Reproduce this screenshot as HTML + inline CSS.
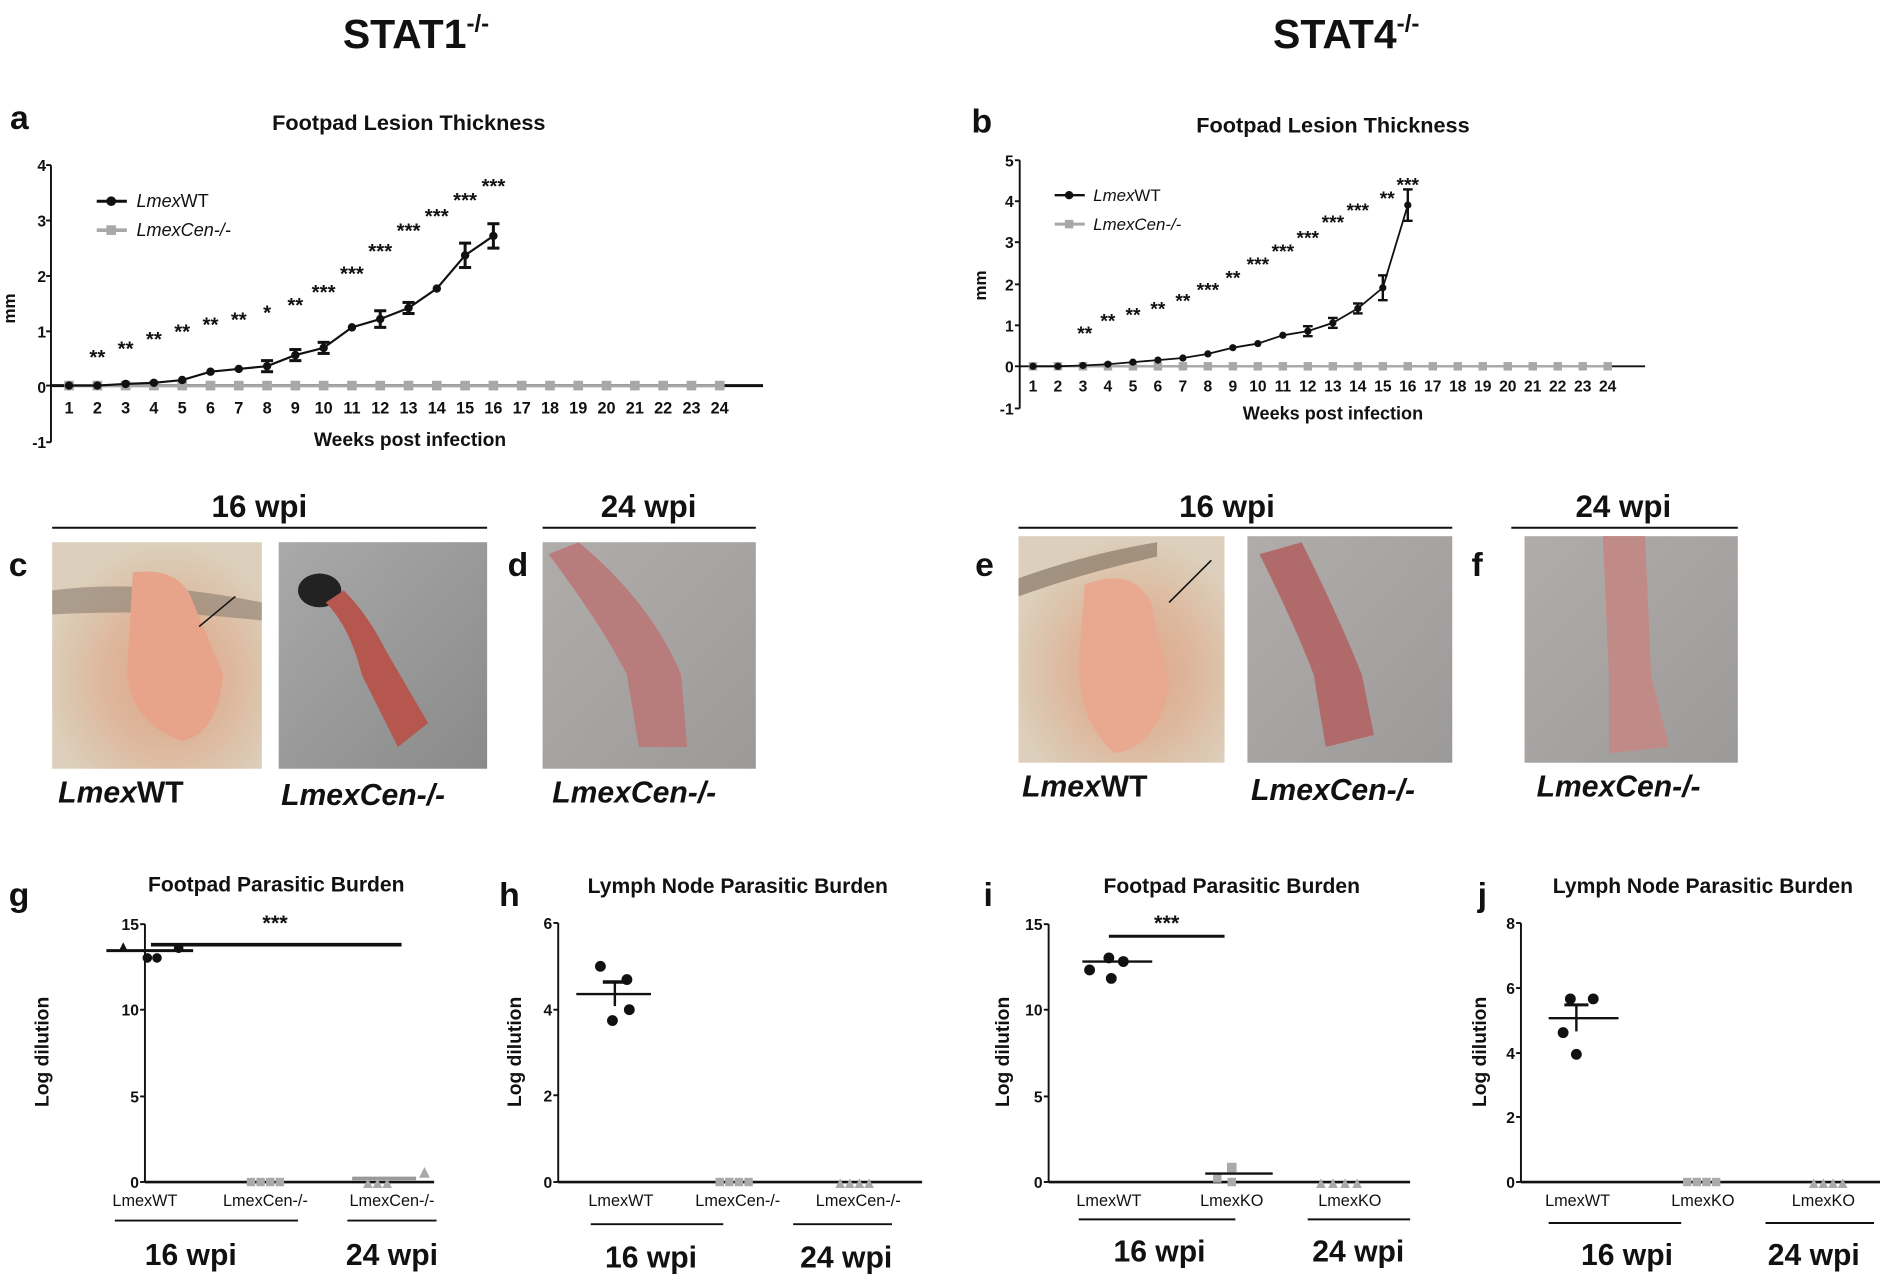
<!DOCTYPE html>
<html><head><meta charset="utf-8"><style>
html,body{margin:0;padding:0;background:#fff;width:1890px;height:1276px;overflow:hidden}
svg{display:block}
text{font-family:"Liberation Sans",sans-serif;fill:#111}
.b{font-weight:bold}
</style></head><body>
<svg id="s" width="1890" height="1276" viewBox="0 0 1568 1059" xmlns="http://www.w3.org/2000/svg">
<defs>
<radialGradient id="g1" cx="0.55" cy="0.6" r="0.6"><stop offset="0" stop-color="#e2a488"/><stop offset="0.5" stop-color="#ddb79c"/><stop offset="1" stop-color="#dcd0bc"/></radialGradient>
<linearGradient id="g2" x1="0" y1="0" x2="1" y2="1"><stop offset="0" stop-color="#a9a9a9"/><stop offset="1" stop-color="#8a8a8a"/></linearGradient>
<linearGradient id="g3" x1="0" y1="0" x2="1" y2="1"><stop offset="0" stop-color="#b0acaa"/><stop offset="1" stop-color="#9c9a99"/></linearGradient>
</defs>
<text x="345" y="40" class="b" font-size="34" text-anchor="middle">STAT1<tspan font-size="20" dy="-14">-/-</tspan></text>
<text x="1117" y="40" class="b" font-size="34" text-anchor="middle">STAT4<tspan font-size="20" dy="-14">-/-</tspan></text>
<text x="8" y="107" class="b" font-size="28">a</text>
<text x="339" y="108" class="b" font-size="18" text-anchor="middle">Footpad Lesion Thickness</text>
<g class="b" font-size="13" text-anchor="end">
<text x="38" y="142">4</text><text x="38" y="188">3</text><text x="38" y="234">2</text><text x="38" y="280">1</text><text x="38" y="326">0</text><text x="38" y="372">-1</text></g>
<text transform="translate(12,256) rotate(-90)" class="b" font-size="14" text-anchor="middle">mm</text>
<g class="b" font-size="13.5" text-anchor="middle">
<text x="57" y="343">1</text><text x="80.5" y="343">2</text><text x="104" y="343">3</text><text x="127.4" y="343">4</text><text x="150.9" y="343">5</text><text x="174.4" y="343">6</text><text x="197.9" y="343">7</text><text x="221.4" y="343">8</text><text x="244.8" y="343">9</text><text x="268.3" y="343">10</text><text x="291.8" y="343">11</text><text x="315.3" y="343">12</text><text x="338.8" y="343">13</text><text x="362.2" y="343">14</text><text x="385.7" y="343">15</text><text x="409.2" y="343">16</text><text x="432.7" y="343">17</text><text x="456.2" y="343">18</text><text x="479.6" y="343">19</text><text x="503.1" y="343">20</text><text x="526.6" y="343">21</text><text x="550.1" y="343">22</text><text x="573.6" y="343">23</text><text x="597" y="343">24</text></g>
<text x="340" y="370" class="b" font-size="16" text-anchor="middle">Weeks post infection</text>
<text x="113" y="172" font-size="15" font-style="italic">Lmex<tspan font-style="normal">WT</tspan></text>
<text x="113" y="196" font-size="15" font-style="italic">LmexCen-/-</text>
<g class="b" font-size="17" text-anchor="middle">
<text x="80.5" y="302">**</text><text x="104" y="295">**</text><text x="127.4" y="287">**</text><text x="150.9" y="281">**</text><text x="174.4" y="275">**</text><text x="197.9" y="271">**</text><text x="221.4" y="265">*</text><text x="244.8" y="259">**</text><text x="268.3" y="248">***</text><text x="291.8" y="233">***</text><text x="315.3" y="214">***</text><text x="338.8" y="197">***</text><text x="362.2" y="185">***</text><text x="385.7" y="172">***</text><text x="409.2" y="160">***</text></g>
<text x="806" y="110" class="b" font-size="28">b</text>
<text x="1106" y="110" class="b" font-size="18" text-anchor="middle">Footpad Lesion Thickness</text>
<g class="b" font-size="13" text-anchor="end">
<text x="841" y="138">5</text><text x="841" y="172">4</text><text x="841" y="206">3</text><text x="841" y="241">2</text><text x="841" y="275">1</text><text x="841" y="309">0</text><text x="841" y="344">-1</text></g>
<text transform="translate(818,237) rotate(-90)" class="b" font-size="14" text-anchor="middle">mm</text>
<g class="b" font-size="13" text-anchor="middle">
<text x="857" y="325">1</text><text x="877.7" y="325">2</text><text x="898.5" y="325">3</text><text x="919.2" y="325">4</text><text x="940" y="325">5</text><text x="960.7" y="325">6</text><text x="981.4" y="325">7</text><text x="1002.2" y="325">8</text><text x="1022.9" y="325">9</text><text x="1043.7" y="325">10</text><text x="1064.4" y="325">11</text><text x="1085.1" y="325">12</text><text x="1105.9" y="325">13</text><text x="1126.6" y="325">14</text><text x="1147.4" y="325">15</text><text x="1168.1" y="325">16</text><text x="1188.8" y="325">17</text><text x="1209.6" y="325">18</text><text x="1230.3" y="325">19</text><text x="1251.1" y="325">20</text><text x="1271.8" y="325">21</text><text x="1292.5" y="325">22</text><text x="1313.3" y="325">23</text><text x="1334" y="325">24</text></g>
<text x="1106" y="348" class="b" font-size="15" text-anchor="middle">Weeks post infection</text>
<text x="907" y="167" font-size="14" font-style="italic">Lmex<tspan font-style="normal">WT</tspan></text>
<text x="907" y="191" font-size="14" font-style="italic">LmexCen-/-</text>
<g class="b" font-size="16" text-anchor="middle">
<text x="900" y="282">**</text><text x="919.2" y="272">**</text><text x="940" y="267">**</text><text x="960.7" y="262">**</text><text x="981.4" y="255">**</text><text x="1002.2" y="246">***</text><text x="1022.9" y="236">**</text><text x="1043.7" y="225">***</text><text x="1064.4" y="214">***</text><text x="1085.1" y="203">***</text><text x="1105.9" y="190">***</text><text x="1126.6" y="180">***</text><text x="1151" y="170">**</text><text x="1168.1" y="159">***</text></g>
<g class="b" font-size="26" text-anchor="middle">
<text x="215" y="429">16 wpi</text><text x="538" y="429">24 wpi</text><text x="1018" y="429">16 wpi</text><text x="1347" y="429">24 wpi</text></g>
<g stroke="#111" stroke-width="1.6"><line x1="43" y1="438" x2="404" y2="438"/><line x1="450" y1="438" x2="627" y2="438"/><line x1="845" y1="438" x2="1205" y2="438"/><line x1="1254" y1="438" x2="1442" y2="438"/></g>
<g class="b" font-size="28"><text x="7" y="478">c</text><text x="421" y="478">d</text><text x="809" y="478">e</text><text x="1221" y="478">f</text></g>
<rect x="43" y="450" width="174" height="188" fill="url(#g1)"/>
<path d="M43 490 Q120 480 217 500 L217 515 Q130 505 43 510Z" fill="#8a7d6f" opacity="0.6"/>
<path d="M110 475 Q150 470 160 500 L185 560 Q180 610 150 615 Q110 600 105 560Z" fill="#e8a48a"/>
<rect x="231" y="450" width="173" height="188" fill="url(#g2)"/>
<ellipse cx="265" cy="490" rx="18" ry="14" fill="#222"/>
<path d="M270 500 Q290 520 300 560 L330 620 L355 600 L320 540 Q305 510 285 490Z" fill="#b5574f"/>
<rect x="450" y="450" width="177" height="188" fill="url(#g3)"/>
<path d="M455 460 Q500 520 520 560 L530 620 L570 620 L565 560 Q540 500 480 450Z" fill="#b87c7c"/>
<rect x="845" y="445" width="171" height="188" fill="url(#g1)"/>
<path d="M845 480 Q900 460 960 450 L960 462 Q900 475 845 495Z" fill="#7b6a5a" opacity="0.6"/>
<path d="M900 485 Q940 470 955 500 L970 570 Q960 620 925 625 Q895 600 895 550Z" fill="#e9a890"/>
<rect x="1035" y="445" width="170" height="188" fill="url(#g3)"/>
<path d="M1045 460 Q1075 520 1090 560 L1100 620 L1140 610 L1130 560 Q1110 510 1080 450Z" fill="#b06a6a"/>
<rect x="1265" y="445" width="177" height="188" fill="url(#g3)"/>
<path d="M1330 445 L1365 445 L1370 560 L1385 620 L1335 625 L1335 560Z" fill="#c08a86"/>
<g stroke="#111" stroke-width="1.3"><line x1="195" y1="495" x2="165" y2="520"/><line x1="1005" y1="465" x2="970" y2="500"/></g>
<g class="b" font-size="25" font-style="italic">
<text x="48" y="666">Lmex<tspan font-style="normal">WT</tspan></text><text x="233" y="668">LmexCen-/-</text><text x="458" y="666">LmexCen-/-</text>
<text x="848" y="661">Lmex<tspan font-style="normal">WT</tspan></text><text x="1038" y="664">LmexCen-/-</text><text x="1275" y="661">LmexCen-/-</text></g>
<g class="b" font-size="28"><text x="7" y="752">g</text><text x="414" y="752">h</text><text x="816" y="752">i</text><text x="1226" y="752">j</text></g>
<g class="b" font-size="17.5" text-anchor="middle"><text x="229" y="740">Footpad Parasitic Burden</text><text x="612" y="741">Lymph Node Parasitic Burden</text><text x="1022" y="741">Footpad Parasitic Burden</text><text x="1413" y="741">Lymph Node Parasitic Burden</text></g>
<g class="b" font-size="13" text-anchor="end">
<text x="115" y="772">15</text><text x="115" y="843">10</text><text x="115" y="915">5</text><text x="115" y="986">0</text>
<text x="458" y="771">6</text><text x="458" y="843">4</text><text x="458" y="914">2</text><text x="458" y="986">0</text>
<text x="865" y="772">15</text><text x="865" y="843">10</text><text x="865" y="915">5</text><text x="865" y="986">0</text>
<text x="1257" y="771">8</text><text x="1257" y="825">6</text><text x="1257" y="879">4</text><text x="1257" y="932">2</text><text x="1257" y="986">0</text></g>
<g class="b" font-size="16" text-anchor="middle">
<text transform="translate(40,873) rotate(-90)">Log dilution</text><text transform="translate(432,873) rotate(-90)">Log dilution</text><text transform="translate(837,873) rotate(-90)">Log dilution</text><text transform="translate(1233,873) rotate(-90)">Log dilution</text></g>
<g font-size="13.5" text-anchor="middle">
<text x="120" y="1001">LmexWT</text><text x="220" y="1001">LmexCen-/-</text><text x="325" y="1001">LmexCen-/-</text>
<text x="515" y="1001">LmexWT</text><text x="612" y="1001">LmexCen-/-</text><text x="712" y="1001">LmexCen-/-</text>
<text x="920" y="1001">LmexWT</text><text x="1022" y="1001">LmexKO</text><text x="1120" y="1001">LmexKO</text>
<text x="1309" y="1001">LmexWT</text><text x="1413" y="1001">LmexKO</text><text x="1513" y="1001">LmexKO</text></g>
<g class="b" font-size="25" text-anchor="middle">
<text x="158" y="1050">16 wpi</text><text x="325" y="1050">24 wpi</text><text x="540" y="1052">16 wpi</text><text x="702" y="1052">24 wpi</text>
<text x="962" y="1047">16 wpi</text><text x="1127" y="1047">24 wpi</text><text x="1350" y="1050">16 wpi</text><text x="1505" y="1050">24 wpi</text></g>
<g stroke="#111" stroke-width="1.6">
<line x1="95" y1="1013" x2="247" y2="1013"/><line x1="288" y1="1013" x2="362" y2="1013"/>
<line x1="490" y1="1016" x2="600" y2="1016"/><line x1="658" y1="1016" x2="740" y2="1016"/>
<line x1="895" y1="1012" x2="1025" y2="1012"/><line x1="1085" y1="1012" x2="1170" y2="1012"/>
<line x1="1285" y1="1015" x2="1395" y2="1015"/><line x1="1465" y1="1015" x2="1555" y2="1015"/></g>
<g class="b" font-size="18" text-anchor="middle"><text x="228" y="772">***</text><text x="968" y="772">***</text></g>
<g id="dyn"></g>
</svg>
<script>
const NS="http://www.w3.org/2000/svg",D=document.getElementById("dyn");
function el(t,a){const e=document.createElementNS(NS,t);for(const k in a)e.setAttribute(k,a[k]);D.appendChild(e);return e}
function L(x1,y1,x2,y2,c,w){el("line",{x1,y1,x2,y2,stroke:c||"#111","stroke-width":w||1.6})}
function C(x,y,r,c){el("circle",{cx:x,cy:y,r:r,fill:c||"#111"})}
function S(x,y,s,c){el("rect",{x:x-s/2,y:y-s/2,width:s,height:s,fill:c||"#aaa"})}
function T(x,y,s,c){el("polygon",{points:`${x-s/2},${y+s/2} ${x+s/2},${y+s/2} ${x},${y-s/2}`,fill:c||"#aaa"})}
L(42,137,42,367);[137,183,229,275,320,367].forEach(y=>L(38,y,42,y));
L(42,320,633,320,"#111",2.5);
let wa=[0,0,0.03,0.05,0.1,0.25,0.3,0.35,0.55,0.68,1.05,1.2,1.4,1.75,2.35,2.7],ea=[0,0,0,0,0,0,0.03,0.1,0.1,0.1,0.03,0.15,0.1,0.03,0.22,0.22];
let xa=i=>57+23.48*i,ya=v=>320-46*v;
for(let i=0;i<24;i++)S(xa(i),320,8,"#a8a8a8");
L(57,320,597,320,"#a8a8a8",2.5);
let p="";wa.forEach((v,i)=>p+=(i?"L":"M")+xa(i)+" "+ya(v));el("path",{d:p,fill:"none",stroke:"#111","stroke-width":1.8});
wa.forEach((v,i)=>{C(xa(i),ya(v),3.5);if(ea[i]>0.05){L(xa(i),ya(v+ea[i]),xa(i),ya(v-ea[i]),"#111",2.5);L(xa(i)-5,ya(v+ea[i]),xa(i)+5,ya(v+ea[i]),"#111",2.5);L(xa(i)-5,ya(v-ea[i]),xa(i)+5,ya(v-ea[i]),"#111",2.5)}});
L(80,167,105,167,"#111",2.5);C(92,167,4);L(80,191,105,191,"#a8a8a8",3);S(92,191,8,"#a8a8a8");
L(846,133,846,339);[133,167,201,236,270,304,339].forEach(y=>L(842,y,846,y));
L(846,304,1365,304,"#111",1.6);
let wb=[0,0,0.02,0.05,0.1,0.15,0.2,0.3,0.45,0.55,0.75,0.85,1.05,1.4,1.9,3.9],eb=[0,0,0,0,0,0,0,0,0,0,0.05,0.12,0.12,0.12,0.3,0.38];
let xb=i=>857+20.74*i,yb=v=>304-34.3*v;
for(let i=0;i<24;i++)S(xb(i),304,7,"#a8a8a8");
L(857,304,1334,304,"#a8a8a8",2);
p="";wb.forEach((v,i)=>p+=(i?"L":"M")+xb(i)+" "+yb(v));el("path",{d:p,fill:"none",stroke:"#111","stroke-width":1.5});
wb.forEach((v,i)=>{C(xb(i),yb(v),3);if(eb[i]>0.05){L(xb(i),yb(v+eb[i]),xb(i),yb(v-eb[i]),"#111",2);L(xb(i)-4,yb(v+eb[i]),xb(i)+4,yb(v+eb[i]),"#111",2);L(xb(i)-4,yb(v-eb[i]),xb(i)+4,yb(v-eb[i]),"#111",2)}});
L(875,162,900,162,"#111",2);C(887,162,3.5);L(875,186,900,186,"#a8a8a8",2.5);S(887,186,7,"#a8a8a8");
function ax(x0,yt,yb0,x1,ticks){L(x0,yt,x0,yb0);ticks.forEach(y=>L(x0-4,y,x0,y));L(x0,yb0,x1,yb0,"#111",2.2)}
ax(120,767,981,360,[767,838,910,981]);ax(463,766,981,765,[766,838,909,981]);ax(870,767,981,1170,[767,838,910,981]);ax(1262,766,981,1560,[766,820,874,927,981]);
L(88,789,160,789,"#111",2.5);L(125,784,333,784,"#111",3);
T(102,786,8,"#111");C(148,787,4);C(122,795,4);C(130,795,4);
[208,216,224,232].forEach(x=>S(x,981,7,"#aaa"));
L(292,978,345,978,"#999",3);[305,313,321].forEach(x=>T(x,982,8));T(352,973,9);
C(498,802,4.5);C(520,813,4.5);C(522,838,4.5);C(508,847,4.5);L(478,825,540,825,"#111",2);L(500,815,520,815,"#111",3);L(510,815,510,835,"#111",2);
[597,605,613,621].forEach(x=>S(x,981,7,"#aaa"));[697,705,713,721].forEach(x=>T(x,982,8));
C(904,805,4.5);C(932,798,4.5);C(922,812,4.5);C(920,795,4.5);L(898,798,956,798,"#111",2);L(920,777,1016,777,"#111",2.5);
S(1022,969,8);S(1010,978,7);S(1022,981,7);L(1000,974,1056,974,"#111",2);
[1096,1106,1116,1126].forEach(x=>T(x,982,8));
C(1303,829,4.5);C(1322,829,4.5);C(1297,857,4.5);C(1308,875,4.5);L(1285,845,1343,845,"#111",2);L(1298,834,1318,834,"#111",2.5);L(1308,834,1308,856,"#111",2);
[1400,1408,1416,1424].forEach(x=>S(x,981,7,"#aaa"));[1505,1513,1521,1529].forEach(x=>T(x,982,8));
</script>
</body></html>
